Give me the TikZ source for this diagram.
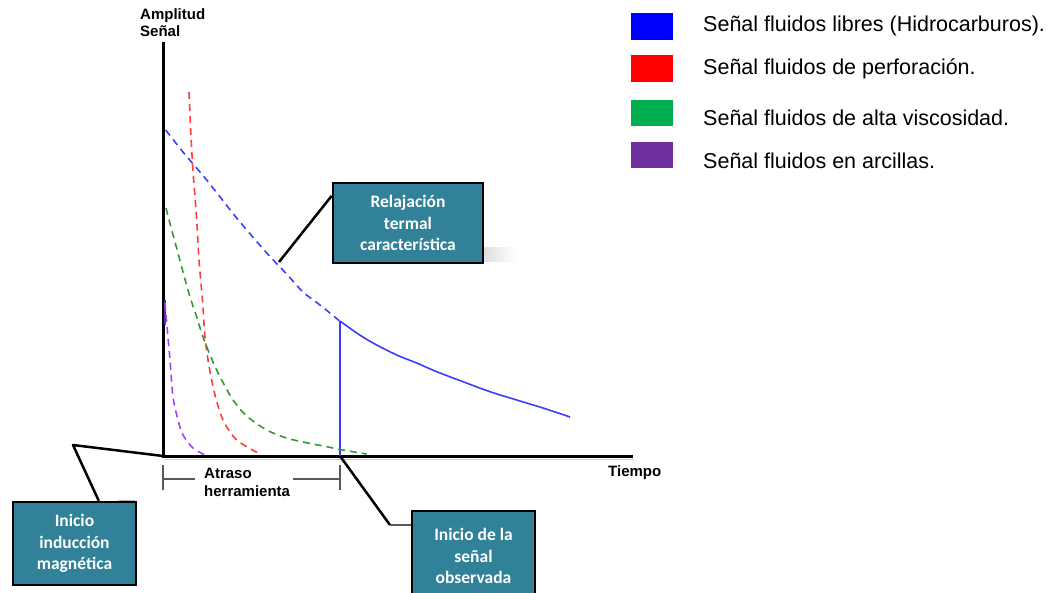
\documentclass[tikz,border=0pt]{standalone}
\usepackage{fontspec}
\setmainfont{Liberation Sans}
\newfontfamily\calib{Carlito}
\usetikzlibrary{calc}
\definecolor{calloutteal}{RGB}{49,130,152}
\definecolor{legblue}{RGB}{0,0,255}
\definecolor{legred}{RGB}{255,0,0}
\definecolor{leggreen}{RGB}{0,176,80}
\definecolor{legpurple}{RGB}{112,48,160}
\definecolor{cblue}{RGB}{60,60,255}
\definecolor{cred}{RGB}{255,60,60}
\definecolor{cgreen}{RGB}{50,155,50}
\definecolor{cpurple}{RGB}{160,64,255}
\tikzset{
  callout/.style={draw=black, line width=2.5pt, fill=calloutteal, text=white,
    font=\calib\bfseries\fontsize{17.5}{21.5}\selectfont, align=center, inner sep=0pt},
  leader/.style={draw=black, line width=2.5pt, line join=round},
  axis/.style={draw=black, line width=3pt},
  curve/.style={line width=1.6pt, dash pattern=on 7pt off 5pt},
  axlabel/.style={font=\bfseries\fontsize{15}{17}\selectfont, inner sep=0pt, align=left},
  legsq/.style={minimum width=41.5pt, minimum height=26.5pt, inner sep=0pt},
  legtext/.style={font=\fontsize{21.5}{24}\selectfont, inner sep=0pt, anchor=base west},
  bracket/.style={draw=black!65, line width=1.2pt}
}
\begin{document}
\begin{tikzpicture}[x=1pt,y=-1pt]
\useasboundingbox (0,0) rectangle (1054,592);
\clip (0,0) rectangle (1054,592);

% axes
\coordinate (ytop) at (163,42);
\coordinate (origin) at (163,456);
\coordinate (xend) at (633,456);
\draw[gray!40, line width=1.5pt] (165,459.5) -- (634,459.5);
\draw[axis] (ytop) -- ($(origin)+(0,1.5)$);
\draw[axis] ($(origin)+(-1.5,0)$) -- (xend);

\node[axlabel, anchor=north west] (amp) at (140,8) {Amplitud\\Señal};
\node[axlabel, anchor=north west] (tiempo) at (608,465) {Tiempo};

% curves
\draw[cblue, curve] plot[smooth] coordinates {(165.7,130) (183,152) (206.7,180) (236.7,218) (266.7,253) (286.7,274) (303,292) (320,305) (339.3,320.7)};
\draw[cblue, line width=1.6pt] plot[smooth] coordinates {(340,321) (356.7,333) (373,343) (396.7,355) (416.7,363) (436.7,371.7) (463,381.7) (490,391.7) (516.7,400) (543,408) (570,417)};
\coordinate (obsstart) at (340,456);
\draw[cblue, line width=1.5pt] (340,321) -- (obsstart);

\draw[cred, curve] plot[smooth] coordinates {(189,92) (190.7,130) (192.7,167) (195,197) (196.7,220) (199,260) (200.7,280) (202.7,303) (205,337) (209,366) (215,395) (223,420) (236.7,440) (260,454)};

\draw[cgreen, curve] plot[smooth] coordinates {(166,208) (171.7,230) (178,253) (183,272) (190,297) (196.7,317) (203,337) (213,362) (221.7,380) (233,400) (246.7,416) (266.7,430) (290,439) (326.7,446.7) (343,450) (366.7,454)};

\draw[cpurple!60!black, line width=2pt] (165,300) -- (165,325);
\draw[cpurple, curve] plot[smooth] coordinates {(165,303) (166.7,323) (170,360) (173,397) (178,420) (183,435) (193,448) (205,455)};

% atraso bracket
\coordinate (b1a) at (163,465); \coordinate (b1b) at (163,490);
\coordinate (b2a) at (340,465); \coordinate (b2b) at (340,490);
\draw[bracket] (b1a) -- (b1b);
\draw[bracket] (b2a) -- (b2b);
\draw[bracket] (163,479) -- (195,479);
\draw[bracket] (293,479) -- (340,479);
\node[axlabel, anchor=north west, font=\bfseries\fontsize{15}{18}\selectfont] (atraso) at (204,468) {Atraso\\herramienta};

% callout: relajacion
\shade[left color=gray!25, right color=white] (484,247) rectangle (516,261);
\node[callout, minimum width=150pt, minimum height=80pt] (relbox) at (408,223) {Relajación\\termal\\característica};
\coordinate (relpt) at (279,262);
\draw[leader] ($(relbox.north west)+(0,14)$) -- (relpt);

% callout: induccion
\draw[gray!60, line width=2pt] (118,500.5) -- (135,500.5);
\node[callout, minimum width=123pt, minimum height=83pt] (indbox) at (74.5,543.5) {Inicio\\inducción\\magnética};
\coordinate (indknee) at (73,445);
\draw[leader] ($(indbox.north west)+(87,0)$) -- (indknee) -- (origin);

% callout: observada
\node[callout, minimum width=123pt, minimum height=90pt] (obsbox) at (473.5,556) {Inicio de la\\señal\\observada};
\coordinate (obsknee) at (390,525);
\draw[leader] (obsstart) -- (obsknee);
\draw[gray!70!black, line width=2pt] (obsknee) -- (obsbox.west |- obsknee);

% legend
\node[legsq, fill=legblue] (sq1) at (652,26.7) {};
\node[legsq, fill=legred] (sq2) at (652,68.5) {};
\node[legsq, fill=leggreen] (sq3) at (652,113) {};
\node[legsq, fill=legpurple] (sq4) at (652,155) {};
\node[legtext] (t1) at (703,31.7) {Señal fluidos libres (Hidrocarburos).};
\node[legtext] (t2) at (703,74) {Señal fluidos de perforación.};
\node[legtext] (t3) at (703,125) {Señal fluidos de alta viscosidad.};
\node[legtext] (t4) at (703,168) {Señal fluidos en arcillas.};
\end{tikzpicture}
\end{document}
